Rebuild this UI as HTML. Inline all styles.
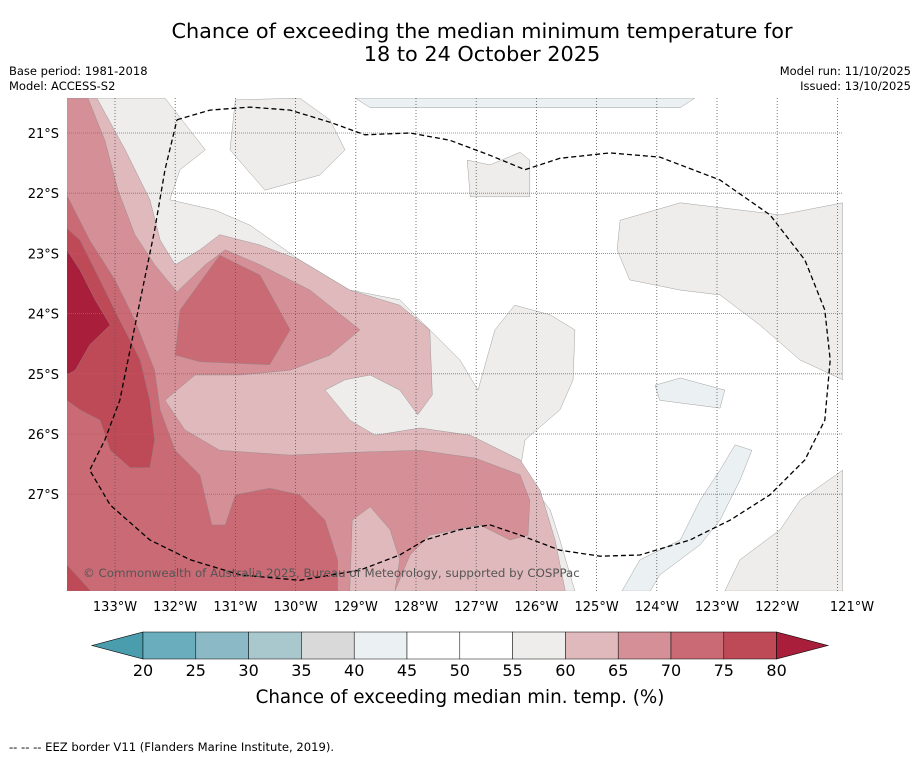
<!DOCTYPE html>
<html><head><meta charset="utf-8">
<style>
body{margin:0;background:#fff;font-family:"Liberation Sans","DejaVu Sans",sans-serif;}
#wrap{position:relative;width:919px;height:758px;overflow:hidden;}
svg text{font-family:"DejaVu Sans","Liberation Sans",sans-serif;}
</style></head>
<body>
<div id="wrap">
<svg id="chart" width="919" height="758"></svg>
</div>
<script>
// ---- data ----
const lonTicks = [133,132,131,130,129,128,127,126,125,124,123,122,121];
const latTicks = [21,22,23,24,25,26,27];
const levels = [20,25,30,35,40,45,50,55,60,65,70,75,80];
const levelColors = ['#6aadbd','#8bbac6','#a9c8cd','#d9d9d9','#ebf0f2','#ffffff','#ffffff','#eeedeb','#e0b9bd','#d58f97','#c96a74','#bf4a57'];
const lowColor = '#4a9dad';
const highColor = '#a91e3a';
const grey1 = [[132.17,20.42],[131.5,21.28],[131.92,21.61],[132.09,22.11],[131.34,22.28],[130.76,22.53],[129.93,23.11],[129.1,23.61],[128.27,23.77],[127.77,24.27],[127.27,24.77],[126.97,25.27],[126.69,24.27],[126.36,23.86],[125.77,24.02],[125.36,24.27],[125.39,25.1],[125.61,25.6],[126.19,26.1],[126.27,26.6],[125.77,27.26],[125.61,27.76],[125.36,28.61],[133.8,28.61],[133.8,20.42]];
const grey2 = [[131,20.45],[131.09,21.28],[130.51,21.95],[129.6,21.7],[129.18,21.28],[129.43,20.78],[129.93,20.42]];
const grey3 = [[127.15,21.45],[127.1,22.06],[126.11,22.06],[126.11,21.45],[126.27,21.32],[126.77,21.53]];
const grey4 = [[124.61,22.45],[123.61,22.16],[121.95,22.36],[120.91,22.16],[120.91,25.1],[121.62,24.77],[122.29,24.19],[122.95,23.69],[123.61,23.61],[124.45,23.44],[124.66,22.94]];
const grey5 = [[120.91,26.6],[121.62,27.1],[121.95,27.59],[122.62,28.09],[122.87,28.61],[120.91,28.61]];
const blue1 = [[129.01,20.42],[128.76,20.58],[123.61,20.58],[123.37,20.42]];
const blue2 = [[124.03,25.19],[123.61,25.07],[122.87,25.27],[122.95,25.57],[123.95,25.44]];
const blue3 = [[124.58,28.61],[124.28,28.09],[123.61,27.76],[123.28,27.1],[122.95,26.6],[122.7,26.18],[122.42,26.27],[122.62,26.77],[122.95,27.43],[123.28,27.84],[123.95,28.34],[124.11,28.61]];
const pink60 = [[133.3,20.42],[132.83,21.28],[132.42,22.11],[132.25,22.78],[132,23.19],[131.59,22.94],[131.26,22.69],[130.59,22.86],[129.93,23.11],[129.1,23.61],[128.27,23.86],[127.77,24.27],[127.73,25.35],[127.97,25.68],[128.27,25.27],[128.76,25.02],[129.18,25.1],[129.51,25.27],[129.1,25.77],[128.68,26.02],[127.93,25.9],[127.1,26.02],[126.27,26.43],[125.94,26.93],[125.69,27.76],[125.52,28.61],[133.8,28.61],[133.8,20.42]];
const pink65 = [[133.8,20.42],[133.45,20.42],[133.17,21.12],[132.95,21.95],[132.67,22.69],[132.34,23.19],[131.97,23.64],[131.5,23.19],[131.17,22.94],[130.59,23.19],[129.76,23.61],[128.93,24.27],[129.43,24.69],[130.09,24.94],[130.92,25.02],[131.67,25.02],[132.17,25.44],[131.84,25.93],[131.26,26.27],[130.09,26.35],[128.93,26.3],[127.93,26.27],[127.02,26.4],[126.27,26.68],[126.11,27.1],[126.14,27.68],[126.44,27.76],[126.94,27.51],[127.77,27.68],[128.1,28.01],[128.35,28.61],[133.8,28.61]];
const pink60b = [[129.1,28.61],[129.06,27.43],[128.76,27.21],[128.43,27.59],[128.27,28.09],[128.35,28.61]];
const pink70 = [[133.8,22.03],[133.42,22.78],[133,23.44],[132.67,24.11],[132.34,24.94],[132.25,25.6],[132,26.27],[131.59,26.68],[131.39,27.51],[131.17,27.51],[131,27.01],[130.43,26.9],[129.93,27.01],[129.51,27.43],[129.3,28.09],[129.3,28.61],[133.8,28.61]];
const pink70b = [[132,24.69],[131.92,23.94],[131.26,23.03],[130.59,23.36],[130.09,24.27],[130.43,24.85],[131.59,24.8]];
const pink75 = [[133.8,22.58],[133.58,22.78],[133.25,23.44],[132.92,24.11],[132.58,24.77],[132.42,25.44],[132.34,26.1],[132.42,26.56],[132.75,26.56],[133.08,26.27],[133.25,25.77],[133.58,25.6],[133.8,25.44]];
const pink75b = [[133.8,28.17],[133.4,28.61],[133.8,28.61]];
const pink80 = [[133.8,22.94],[133.58,23.28],[133.33,23.77],[133.08,24.19],[133.42,24.52],[133.66,24.94],[133.8,25.02]];
const eez = [[131.97,20.78],[131.42,20.62],[130.76,20.57],[130.09,20.62],[129.43,20.82],[128.85,21.03],[128.1,21],[127.44,21.12],[126.77,21.37],[126.19,21.61],[125.61,21.42],[124.78,21.33],[123.95,21.4],[122.95,21.78],[122.12,22.36],[121.54,23.11],[121.21,23.94],[121.12,24.77],[121.21,25.77],[121.54,26.43],[122.12,27.01],[122.78,27.43],[123.45,27.76],[124.28,28.01],[124.94,28.03],[125.61,27.93],[126.27,27.68],[126.77,27.51],[127.27,27.59],[127.85,27.76],[128.27,28.01],[128.93,28.26],[129.93,28.43],[130.92,28.34],[131.75,28.09],[132.42,27.76],[133.08,27.18],[133.42,26.6],[133.17,26.1],[132.92,25.44],[132.75,24.6],[132.58,23.77],[132.34,22.61],[132.17,21.61],[131.97,20.78]];
const regions = [[7,grey1,'grey-region-west'],[7,grey2,'grey-region-north'],[7,grey3,'grey-region-small'],[7,grey4,'grey-region-east'],[7,grey5,'grey-region-southeast'],[4,blue1,'blue-region-north'],[4,blue2,'blue-region-east'],[4,blue3,'blue-region-south'],[8,pink60,'band-60-65'],[9,pink65,'band-65-70'],[8,pink60b,'band-60-65-pocket'],[10,pink70,'band-70-75'],[10,pink70b,'band-70-75-blob'],[11,pink75,'band-75-80'],[11,pink75b,'band-75-80-corner'],[12,pink80,'band-above-80']];

// ---- axes ----
const X0=67,X1=843,Y0=98,Y1=591;
const degPx=60.2;
const xScale = lon => 115 + (133-lon)*degPx;
const yScale = lat => 133 + (lat-21)*degPx;
const NS='http://www.w3.org/2000/svg';
const svg=document.getElementById('chart');
function mk(tag,attrs,parent){const e=document.createElementNS(NS,tag);for(const k in attrs)e.setAttribute(k,attrs[k]);(parent||svg).appendChild(e);return e;}
const pts = poly => poly.map(p=>xScale(p[0]).toFixed(1)+','+yScale(p[1]).toFixed(1)).join(' ');

const defs=mk('defs',{});
const cp=mk('clipPath',{id:'mapclip'},defs);
mk('rect',{x:X0,y:Y0,width:X1-X0,height:Y1-Y0},cp);

const mapG=mk('g',{'clip-path':'url(#mapclip)'});


const bg=mk('rect',{x:X0,y:Y0,width:X1-X0,height:Y1-Y0,fill:'#fff'},mapG);


regions.forEach(r=>{
  const c = r[0]===12?highColor:levelColors[r[0]];
  const p=mk('polygon',{points:pts(r[1]),fill:c,stroke:'#8a8a8a','stroke-width':0.4,'stroke-linejoin':'round'},mapG);
  
  
});
lonTicks.forEach(l=>{
  const g=mk('line',{x1:xScale(l),x2:xScale(l),y1:Y0,y2:Y1,stroke:'#555','stroke-width':0.8,'stroke-dasharray':'1,2'},mapG);
  
  
});
latTicks.forEach(l=>{
  const g=mk('line',{x1:X0,x2:X1,y1:yScale(l),y2:yScale(l),stroke:'#777','stroke-width':0.8,'stroke-dasharray':'1,1'},mapG);
  
  
});
const ez=mk('polyline',{points:pts(eez),fill:'none',stroke:'#000','stroke-width':1.3,'stroke-dasharray':'5,3','stroke-linejoin':'round'},mapG);


const cpy=mk('text',{x:83,y:577,'font-size':11.8,fill:'#555'},mapG);
cpy.textContent='© Commonwealth of Australia 2025, Bureau of Meteorology, supported by COSPPac';



lonTicks.forEach(l=>{
  const x = l===121 ? 852 : xScale(l);
  const t=mk('text',{x:x,y:611,'font-size':13,'text-anchor':'middle',fill:'#000'});
  t.textContent=l+'°W';
  
  
});
latTicks.forEach(l=>{
  const t=mk('text',{x:59,y:yScale(l)+5,'font-size':13,'text-anchor':'end',fill:'#000'});
  t.textContent=l+'°S';
  
  
});

function txt(s,a,name){const t=mk('text',a);t.textContent=s;return t;}
txt('Chance of exceeding the median minimum temperature for',{x:482,y:38,'font-size':20.8,'text-anchor':'middle'},'chart-title-line1');
txt('18 to 24 October 2025',{x:482,y:61,'font-size':20.8,'text-anchor':'middle'},'chart-title-line2');
txt('Base period: 1981-2018',{x:9,y:75,'font-size':11.5},'base-period');
txt('Model: ACCESS-S2',{x:9,y:90,'font-size':11.5},'model-name');
txt('Model run: 11/10/2025',{x:911,y:75,'font-size':11.5,'text-anchor':'end'},'model-run');
txt('Issued: 13/10/2025',{x:911,y:90,'font-size':11.5,'text-anchor':'end'},'issued-date');

const cbX0=143,cbW=52.8,cbY=632,cbH=27;
const cbG=mk('g',{});


const lt=mk('polygon',{points:`${cbX0},${cbY} ${cbX0},${cbY+cbH} 92,${cbY+cbH/2}`,fill:lowColor,stroke:'#000','stroke-width':0.6},cbG);


levelColors.forEach((c,i)=>{
  const r=mk('rect',{x:cbX0+i*cbW,y:cbY,width:cbW,height:cbH,fill:c,stroke:'#000','stroke-width':0.5},cbG);
  
  
});
const endX=cbX0+levelColors.length*cbW;
const rt=mk('polygon',{points:`${endX},${cbY} ${endX},${cbY+cbH} 828,${cbY+cbH/2}`,fill:highColor,stroke:'#000','stroke-width':0.6},cbG);


levels.forEach((v,i)=>{
  txt(String(v),{x:cbX0+i*cbW,y:676,'font-size':16,'text-anchor':'middle'},'colorbar-tick-label');
});
txt('Chance of exceeding median min. temp. (%)',{x:460,y:703,'font-size':18.3,'text-anchor':'middle'},'colorbar-title');
txt('--  --  -- EEZ border V11 (Flanders Marine Institute, 2019).',{x:9,y:751,'font-size':11.6},'eez-legend-note');
</script>
</body></html>
